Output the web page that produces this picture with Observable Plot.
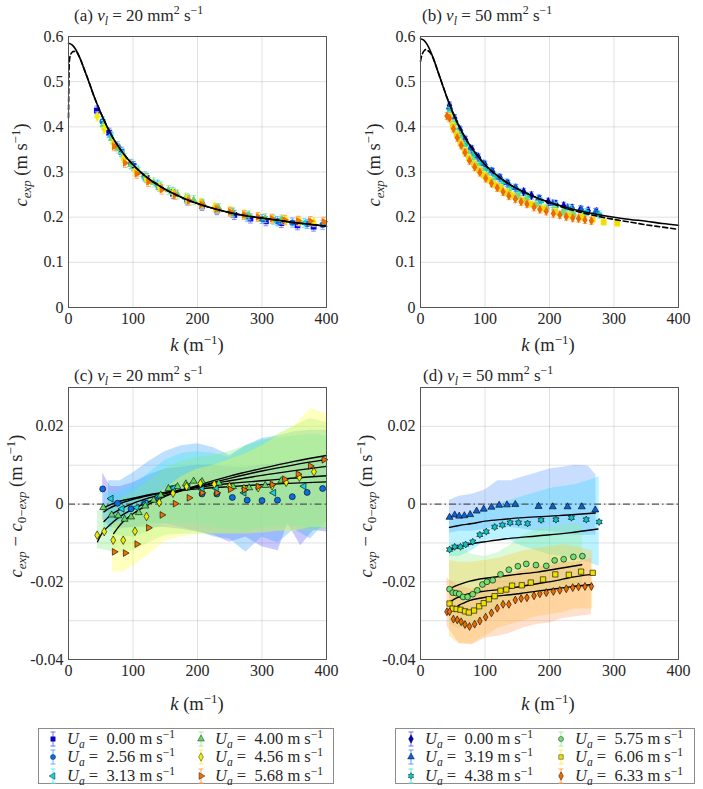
<!DOCTYPE html>
<html><head><meta charset="utf-8">
<script src="https://cdn.jsdelivr.net/npm/d3@7"></script>
<script src="https://cdn.jsdelivr.net/npm/@observablehq/plot@0.6"></script>
<style>
body{margin:0;background:#fff;}
#fig{position:relative;width:703px;height:789px;font-family:"Liberation Serif","Times New Roman",Times,"DejaVu Serif","Noto Serif",serif;color:#262626;overflow:hidden;}
.t{position:absolute;font-size:17px;white-space:nowrap;line-height:1;}
.lab{font-size:18.5px;}
.yl{transform:translate(-50%,-50%) rotate(-90deg);}
.xl{transform:translate(-50%,-50%);}
sub,sup{font-size:70%;line-height:0;}
.leg{position:absolute;border:1px solid #8c8c8c;background:#fff;box-sizing:border-box;}
.le{position:absolute;font-size:16.5px;white-space:nowrap;line-height:1;}
</style></head><body><div id="fig"></div>
<script>
// ---------------- DATA ----------------
const kTicks = [0, 100, 200, 300, 400];
const yTicksTop = [0, 0.1, 0.2, 0.3, 0.4, 0.5, 0.6];
const yTicksBot = [-0.04, -0.02, 0, 0.02];
const yGridBot = [-0.03, -0.02, -0.01, 0, 0.01, 0.02];

// model curves, panels (a) and (b)
const kCurve = [0,5,10,15,20,25,30,40,50,60,70,80,90,100,120,140,160,180,200,225,250,275,300,325,350,375,400];
const cSolidA = [0.585,0.582,0.574,0.561,0.544,0.525,0.506,0.466,0.431,0.400,0.373,0.351,0.332,0.316,0.290,0.270,0.254,0.241,0.230,0.219,0.210,0.203,0.198,0.193,0.188,0.184,0.180];
const kDashA = [0,0.5,1,2,4,8,12,16,20,25,30,40,50,60,70,80,90,100,120,140,160,180,200,225,250,275,300,325,350,375,400];
const cDashA = [0.42,0.49,0.535,0.553,0.562,0.567,0.566,0.557,0.544,0.525,0.506,0.466,0.431,0.400,0.373,0.351,0.332,0.316,0.290,0.270,0.254,0.241,0.230,0.219,0.210,0.203,0.198,0.193,0.188,0.184,0.180];
const cSolidB = [0.595,0.592,0.583,0.569,0.551,0.531,0.510,0.469,0.432,0.401,0.374,0.352,0.333,0.316,0.291,0.271,0.256,0.243,0.233,0.222,0.213,0.206,0.200,0.195,0.191,0.186,0.182];
const kDashB = [0,1,2,4,6,8,10,13,16,20,25,30,40,50,60,70,80,90,100,120,140,160,180,200,225,250,275,300,325,350,375,400];
const cDashB = [0.545,0.552,0.558,0.565,0.569,0.571,0.570,0.567,0.562,0.551,0.531,0.510,0.469,0.432,0.401,0.374,0.352,0.333,0.316,0.291,0.271,0.256,0.243,0.232,0.220,0.210,0.202,0.195,0.189,0.183,0.178,0.173];

// nu_l = 20 : wind speeds
const uaA = ["0.00", "2.56", "3.13", "4.00", "4.56", "5.68"];
const kA0 = [44,63,82,101,121,141,162,184,207,230,257,282,306,330,355,380];
const cA0 = [0.436,0.387,0.345,0.313,0.287,0.267,0.251,0.237,0.225,0.2155,0.205,0.197,0.191,0.187,0.182,0.179];
const kA1 = [53,76,97,118,138,161,184,207,230,254,277,300,324,347,370,394];
const cA1 = [0.412,0.357,0.318,0.290,0.272,0.256,0.241,0.228,0.218,0.209,0.201,0.196,0.191,0.188,0.185,0.183];
const dC1 = [0.0039,0.0002,-0.0012,0.0003,0.0017,0.004,0.0043,0.0026,0.0026,0.0017,0.001,0.0009,0.001,0.0019,0.003,0.004];
const kA2 = [66,83,106,120,140,163,185,207,229,272,318,365];
const cA2 = [0.380,0.342,0.305,0.288,0.270,0.254,0.2405,0.229,0.220,0.2046,0.194,0.187];
const dC2 = [0.0014,-0.0012,-0.0009,0.0002,0.002,0.0041,0.0045,0.0038,0.004,0.0029,0.0029,0.0046];
const kA3 = [54,67,77,87,97,109,119,132,143,155,169,182,194,207,233,255,280,305,330,357];
const cA3 = [0.404,0.374,0.352,0.331,0.316,0.300,0.2885,0.277,0.268,0.260,0.2505,0.243,0.238,0.231,0.220,0.211,0.204,0.198,0.195,0.191];
const dC3 = [-0.0009,-0.0028,-0.003,-0.0039,-0.0033,-0.0022,-0.0005,0.001,0.0023,0.004,0.0045,0.0052,0.0059,0.0058,0.0054,0.0045,0.0042,0.0048,0.006,0.0072];
const kA4 = [44.5,55.4,69.3,84.8,103,121,140.7,162,183,204.5,226,249.5,272,294,315.6,337.5,358,380.5];
const cA4 = [0.423,0.395,0.363,0.330,0.303,0.284,0.267,0.254,0.2415,0.232,0.222,0.213,0.2057,0.2002,0.196,0.193,0.191,0.189];
const dC4 = [-0.008,-0.0071,-0.0093,-0.0093,-0.007,-0.0032,0.0004,0.0028,0.0045,0.0053,0.0051,0.0045,0.004,0.0042,0.0047,0.0056,0.0069,0.0083];
const kA5 = [71,88,106,124,145,165.5,187,207,230,251,272.6,294,315.6,335,356,375,396];
const cA5 = [0.357,0.320,0.296,0.278,0.261,0.249,0.2366,0.228,0.2184,0.2118,0.2051,0.2005,0.1965,0.194,0.1919,0.1913,0.1899];
const dC5 = [-0.0123,-0.0126,-0.0103,-0.0061,-0.0028,0.0001,0.0016,0.0029,0.0029,0.0038,0.0036,0.0045,0.005,0.0064,0.0077,0.0098,0.0114];
const errA = [0.010, 0.010, 0.010, 0.010, 0.010, 0.010];

// panel (c) model curves
const kMC1 = [53,60,75,100,125,150,200,250,300,350,400];
const vMC1 = [-0.0012,-0.0005,0.0005,0.0015,0.0024,0.003,0.0039,0.0045,0.005,0.0054,0.0057];
const kMC2 = [55,62,75,100,125,150,200,250,300,350,400];
const vMC2 = [-0.002,-0.0012,-0.0002,0.0012,0.0022,0.003,0.0043,0.0053,0.006,0.0067,0.0073];
const kMC3 = [55,62,75,100,125,150,200,250,300,350,400];
const vMC3 = [-0.0045,-0.0033,-0.0018,0.0002,0.0016,0.0027,0.0045,0.006,0.0074,0.0086,0.0097];
const kMC4 = [45,52,60,70,80,100,125,150,200,250,300,350,400];
const vMC4 = [-0.0097,-0.0075,-0.006,-0.0045,-0.0032,-0.0013,0.0006,0.0022,0.0045,0.0066,0.0085,0.0101,0.0115];
const kMC5 = [70,77,85,100,125,150,200,250,300,350,400];
const vMC5 = [-0.0076,-0.006,-0.0045,-0.0025,0.0,0.002,0.0048,0.0072,0.0092,0.011,0.0125];

// panel (c) spread bands
const kBC1 = [53,65,80,100,125,150,175,200,225,250,275,300,325,340,360,380,400];
const hiC1 = [0.008,0.0045,0.0045,0.0055,0.0075,0.009,0.0095,0.010,0.010,0.0095,0.0095,0.010,0.0105,0.011,0.0115,0.012,0.012];
const loC1 = [-0.004,-0.006,-0.0065,-0.006,-0.006,-0.006,-0.0065,-0.0072,-0.008,-0.0098,-0.0085,-0.011,-0.012,-0.005,-0.0107,-0.0068,-0.0072];
const kBC2 = [62,80,100,125,150,175,200,225,250,275,300,325,350,375,400];
const hiC2 = [0.006,0.006,0.008,0.011,0.0135,0.015,0.0155,0.0145,0.0125,0.015,0.0169,0.0175,0.0186,0.019,0.019];
const loC2 = [-0.005,-0.006,-0.006,-0.005,-0.005,-0.006,-0.007,-0.0085,-0.009,-0.0124,-0.0085,-0.01,-0.0065,-0.009,-0.0045];
const kBC3 = [55,75,100,125,150,175,200,225,250,275,300,325,350,375,400];
const hiC3 = [0.003,0.003,0.005,0.008,0.0113,0.013,0.0135,0.013,0.012,0.015,0.0165,0.017,0.0175,0.018,0.0175];
const loC3 = [-0.006,-0.008,-0.0085,-0.007,-0.005,-0.005,-0.005,-0.006,-0.0065,-0.007,-0.006,-0.006,-0.0055,-0.0065,-0.006];
const kBC4 = [45,60,75,100,125,150,175,200,225,250,275,300,325,350,375,400];
const hiC4 = [-0.002,0.0,0.001,0.003,0.006,0.009,0.011,0.012,0.0125,0.0135,0.015,0.016,0.018,0.020,0.022,0.021];
const loC4 = [-0.0115,-0.012,-0.0125,-0.012,-0.01,-0.008,-0.0077,-0.0077,-0.0077,-0.0077,-0.0075,-0.0072,-0.007,-0.0068,-0.007,-0.0065];
const kBC5 = [68,85,100,125,150,175,200,225,250,275,300,325,350,375,400];
const hiC5 = [-0.005,-0.004,-0.002,0.001,0.004,0.007,0.009,0.010,0.0115,0.013,0.015,0.0175,0.020,0.0245,0.0233];
const loC5 = [-0.0175,-0.0175,-0.016,-0.013,-0.0095,-0.0085,-0.0077,-0.0077,-0.0077,-0.0077,-0.0075,-0.007,-0.007,-0.006,-0.006];

// nu_l = 50 : wind speeds
const uaB = ["0.00", "3.19", "4.38", "5.75", "6.06", "6.33"];
const kB0 = [45,53,62,70,80,90,100,112,124,136,148,160,172,185,198,210,222,235,248,260,273];
const cB0 = [0.447,0.419,0.392,0.371,0.350,0.332,0.316,0.300,0.286,0.274,0.264,0.256,0.248,0.240,0.234,0.229,0.225,0.220,0.217,0.214,0.212];
const kB1 = [45,53,60,68,77,87,98,110,122,134,147,183,205,228,250,271];
const cB1 = [0.444,0.416,0.395,0.373,0.352,0.335,0.318,0.302,0.288,0.276,0.265,0.241,0.230,0.221,0.216,0.211];
const dD1 = [-0.0034,-0.0028,-0.0031,-0.0030,-0.0027,-0.0018,-0.0013,-0.0008,-0.0003,-0.0002,-0.0001,-0.0006,-0.0007,-0.0007,-0.0007,-0.0015];
const kB2 = [45,53,62,70,81,92,102,115,127,139,152,166,187,210,234,257,277];
const cB2 = [0.435,0.408,0.381,0.361,0.338,0.321,0.306,0.290,0.278,0.266,0.256,0.247,0.235,0.225,0.217,0.211,0.206];
const dD2 = [-0.0117,-0.011,-0.011,-0.0104,-0.0097,-0.0079,-0.0071,-0.0059,-0.0054,-0.0048,-0.0048,-0.005,-0.0041,-0.004,-0.0035,-0.004,-0.0046];
const kB3 = [45,50,55,60,66,73,81,88,96,103,112,124,137,151,164,179,195,208,222,237,251];
const cB3 = [0.425,0.406,0.390,0.375,0.357,0.340,0.325,0.313,0.301,0.292,0.280,0.268,0.256,0.246,0.239,0.228,0.220,0.216,0.211,0.205,0.204];
const dD3 = [-0.0219,-0.0228,-0.0229,-0.0231,-0.0239,-0.0239,-0.0232,-0.0222,-0.0207,-0.02,-0.0196,-0.0181,-0.0169,-0.016,-0.0154,-0.0157,-0.0159,-0.0145,-0.0142,-0.0136,-0.0134];
const kB4 = [45,50,56,62,69,75,83,91,98,106,115,124,133,142,157,171,190,209,230,249,267,284,305];
const cB4 = [0.421,0.402,0.383,0.365,0.346,0.331,0.317,0.304,0.293,0.283,0.272,0.264,0.255,0.248,0.237,0.229,0.219,0.211,0.204,0.200,0.195,0.189,0.1865];
const kD4 = [45,50,56,62,69,75,83,91,98,106,115,124,133,142,157,171,190,209,230,249,267];
const dD4 = [-0.0256,-0.0269,-0.027,-0.0272,-0.0276,-0.0279,-0.0274,-0.0263,-0.0255,-0.0245,-0.0237,-0.0223,-0.022,-0.021,-0.0209,-0.0202,-0.0194,-0.0181,-0.0182,-0.0174,-0.0177];
const kB5 = [41,45,51,57,63,69,76,84,92,101,110,119,128,137,147,156,165,176,185,195,206,216,226,236,245,255,265];
const cB5 = [0.424,0.419,0.396,0.376,0.359,0.343,0.325,0.311,0.299,0.286,0.275,0.265,0.256,0.247,0.240,0.234,0.229,0.222,0.217,0.213,0.208,0.205,0.201,0.198,0.197,0.194,0.192];
const dD5 = [-0.0277,-0.0277,-0.0296,-0.0298,-0.0303,-0.031,-0.0315,-0.0309,-0.0301,-0.0291,-0.028,-0.0268,-0.0258,-0.0258,-0.0247,-0.0243,-0.0241,-0.0236,-0.0231,-0.0228,-0.0225,-0.0222,-0.0218,-0.0215,-0.0213,-0.0212,-0.0212];
const errB = [0.008, 0.008, 0.008, 0.008, 0.008, 0.008];

// panel (d) model curves
const kMD1 = [45,60,80,100,130,160,200,240,271];
const vMD1 = [-0.006,-0.0055,-0.005,-0.0044,-0.0039,-0.0035,-0.0031,-0.0027,-0.0023];
const kMD2 = [45,60,80,100,130,180,230,275];
const vMD2 = [-0.0119,-0.011,-0.0102,-0.0097,-0.009,-0.0082,-0.0074,-0.0064];
const kMD3 = [44,50,62,75,88,110,129,155,181,210,250];
const vMD3 = [-0.0222,-0.0214,-0.0206,-0.0199,-0.0194,-0.0189,-0.0185,-0.018,-0.0175,-0.0167,-0.0156];
const kMD4 = [44,50,57,65,77,100,129,155,181,210,232,266];
const vMD4 = [-0.0254,-0.0247,-0.0241,-0.0236,-0.023,-0.0224,-0.0219,-0.0212,-0.0205,-0.0197,-0.0189,-0.0181];
const kMD5 = [54,60,68,77,90,110,129,155,181,210,232,266];
const vMD5 = [-0.0268,-0.026,-0.0254,-0.0248,-0.0243,-0.0238,-0.0235,-0.023,-0.0224,-0.0218,-0.0213,-0.0207];

// panel (d) spread bands
const kBD1 = [45,60,80,100,120,140,160,180,200,220,240,260,272];
const hiD1 = [0.001,0.002,0.0025,0.0036,0.006,0.006,0.007,0.008,0.009,0.0095,0.010,0.0098,0.0075];
const loD1 = [-0.0075,-0.007,-0.007,-0.0065,-0.006,-0.006,-0.0065,-0.007,-0.007,-0.0075,-0.008,-0.008,-0.008];
const kBD2 = [45,60,80,100,120,140,160,180,200,220,240,260,277];
const hiD2 = [-0.004,-0.004,-0.003,-0.0015,0.0,0.001,0.002,0.003,0.004,0.0045,0.005,0.006,0.007];
const loD2 = [-0.0135,-0.0135,-0.012,-0.0095,-0.009,-0.0095,-0.011,-0.012,-0.013,-0.0135,-0.014,-0.015,-0.016];
const kBD3 = [45,60,80,100,120,140,160,180,200,220,240,251];
const hiD3 = [-0.0105,-0.011,-0.013,-0.0135,-0.0125,-0.0105,-0.008,-0.0065,-0.006,-0.0055,-0.005,-0.0055];
const loD3 = [-0.031,-0.032,-0.032,-0.029,-0.027,-0.025,-0.024,-0.024,-0.023,-0.022,-0.022,-0.022];
const kBD4 = [45,60,80,100,120,140,160,180,200,220,240,267];
const hiD4 = [-0.0145,-0.015,-0.015,-0.0145,-0.014,-0.013,-0.012,-0.0115,-0.011,-0.0105,-0.011,-0.012];
const loD4 = [-0.034,-0.036,-0.036,-0.034,-0.032,-0.031,-0.030,-0.029,-0.0285,-0.028,-0.027,-0.027];
const kBD5 = [41,60,80,100,120,140,160,180,200,220,240,265];
const hiD5 = [-0.019,-0.021,-0.022,-0.021,-0.019,-0.018,-0.017,-0.016,-0.016,-0.015,-0.015,-0.014];
const loD5 = [-0.0315,-0.0358,-0.0362,-0.0345,-0.034,-0.0332,-0.0318,-0.031,-0.0306,-0.0295,-0.029,-0.0285];

// ---------------- STYLE ----------------
const FONT = '"Liberation Serif","Times New Roman",Times,"DejaVu Serif","Noto Serif",serif';
const colA = ["#0000ff", "#0a6fe6", "#16d2e0", "#62d862", "#f2ee00", "#f07000"];
const eColA = ["#7070ff", "#66aaff", "#66eef0", "#a0f0a0", "#f5f066", "#ffa64d"];
const bandColC = ["#5c5cff", "#3aa0ff", "#30e8f0", "#80ee80", "#ffff40"];
const colB = ["#0000c8", "#0a62d6", "#12c4c4", "#70e070", "#f0e000", "#ee6a00"];
const eColB = ["#6b6bff", "#5c9cff", "#60e0e0", "#a0f0a0", "#f5f066", "#ffa64d"];
const bandColD = ["#5c9cff", "#30d8ff", "#90f090", "#ffcc33", "#ffa060"];

const sqrt3 = Math.sqrt(3);
const triLeft = {draw(c, s){ const y = -Math.sqrt(s/(sqrt3*3)); c.moveTo(y*2,0); c.lineTo(-y,-sqrt3*y); c.lineTo(-y,sqrt3*y); c.closePath(); }};
const triRight = {draw(c, s){ const y = -Math.sqrt(s/(sqrt3*3)); c.moveTo(-y*2,0); c.lineTo(y,-sqrt3*y); c.lineTo(y,sqrt3*y); c.closePath(); }};
const hexagram = {draw(c, s){ const R = Math.sqrt(s/Math.PI)*1.3, r = R/sqrt3;
  for (let i=0;i<12;i++){ const a=i*Math.PI/6-Math.PI/2, rr=i%2?r:R; const x=rr*Math.cos(a), y=rr*Math.sin(a); if(i) c.lineTo(x,y); else c.moveTo(x,y);} c.closePath(); }};
const capSym = {draw(c, s){ const w = Math.sqrt(s)/2; c.moveTo(-w,0); c.lineTo(w,0); }};
const symA = ["square", "circle", triLeft, "triangle", "diamond", triRight];
const symB = ["diamond", "triangle", hexagram, "circle", "square", "diamond"];
const rA = [3.3, 3.2, 2.9, 2.9, 3.0, 2.9];
const rB = [2.9, 2.9, 3.0, 3.1, 3.3, 2.8];
const rC = [3.0, 2.6, 2.6, 2.6, 2.5];
const rD = [2.6, 2.7, 2.9, 3.0, 2.4];

// ---------------- HELPERS ----------------
const rows = (ks, vs) => ks.map((k, i) => ({k, v: vs[i]}));
const bandRows = (ks, lo, hi) => ks.map((k, i) => ({k, lo: lo[i], hi: hi[i]}));
const errRows = (ks, vs, e) => ks.map((k, i) => ({k, v: vs[i], lo: vs[i] - e, hi: vs[i] + e}));
const fig = document.getElementById("fig");

function panel({left, top, ml, mr, mt, mb, height, ydom, ylab, ygrid, fmt, marks}) {
  const svg = Plot.plot({
    width: 350, height, marginLeft: ml, marginRight: mr, marginTop: mt, marginBottom: mb,
    x: {domain: [0, 400]}, y: {domain: ydom},
    style: {fontFamily: FONT, fontSize: "16px", color: "#262626", background: "transparent", overflow: "visible"},
    marks: [
      Plot.gridX([100, 200, 300], {stroke: "#000", strokeOpacity: 0.12}),
      Plot.gridY(ygrid, {stroke: "#000", strokeOpacity: 0.12}),
      ...marks,
      Plot.frame({stroke: "#555", strokeWidth: 1}),
      Plot.axisX(kTicks, {tickSize: 0, tickPadding: 5, label: null, tickFormat: d => String(d), fontSize: 16}),
      Plot.axisY(ylab, {tickSize: 0, tickPadding: 5, label: null, tickFormat: fmt, fontSize: 16})
    ]
  });
  svg.style.position = "absolute";
  svg.style.left = left + "px";
  svg.style.top = top + "px";
  fig.appendChild(svg);
}

function seriesMarks(ks, vs, e, col, ecol, sym, r, stroke) {
  const ms = [];
  if (e > 0) {
    const er = errRows(ks, vs, e);
    ms.push(Plot.ruleX(er, {x: "k", y1: "lo", y2: "hi", stroke: ecol, strokeWidth: 1, strokeOpacity: 0.85}));
    ms.push(Plot.dot(er, {x: "k", y: "lo", symbol: capSym, r: 2.6, stroke: ecol, strokeWidth: 1, strokeOpacity: 0.85}));
    ms.push(Plot.dot(er, {x: "k", y: "hi", symbol: capSym, r: 2.6, stroke: ecol, strokeWidth: 1, strokeOpacity: 0.85}));
  }
  ms.push(Plot.dot(rows(ks, vs), {x: "k", y: "v", symbol: sym, r, fill: col, stroke: stroke || "none", strokeWidth: 0.6}));
  return ms;
}

// ---------------- PANEL (a) ----------------
const topFmt = d => d === 0 ? "0" : d.toFixed(1);
const botFmt = d => d === 0 ? "0" : d.toFixed(2);
const kAs = [kA0, kA1, kA2, kA3, kA4, kA5], cAs = [cA0, cA1, cA2, cA3, cA4, cA5];
const marksA = [];
kAs.forEach((ks, i) => marksA.push(...seriesMarks(ks, cAs[i], errA[i], colA[i], eColA[i], symA[i], rA[i])));
marksA.push(Plot.line(rows(kDashA, cDashA), {x: "k", y: "v", stroke: "#000", strokeWidth: 1.6, strokeDasharray: "5,3", curve: "monotone-x"}));
marksA.push(Plot.line(rows(kCurve, cSolidA), {x: "k", y: "v", stroke: "#000", strokeWidth: 1.6, curve: "monotone-x"}));
panel({left: 0, top: 0, ml: 68, mr: 24, mt: 36, mb: 53, height: 360, ydom: [0, 0.6], ylab: yTicksTop, ygrid: yTicksTop, fmt: topFmt, marks: marksA});

// ---------------- PANEL (b) ----------------
const kBs = [kB0, kB1, kB2, kB3, kB4, kB5], cBs = [cB0, cB1, cB2, cB3, cB4, cB5];
const marksB = [];
kBs.forEach((ks, i) => marksB.push(...seriesMarks(ks, cBs[i], errB[i], colB[i], eColB[i], symB[i], rB[i])));
marksB.push(Plot.line(rows(kDashB, cDashB), {x: "k", y: "v", stroke: "#000", strokeWidth: 1.6, strokeDasharray: "5,3", curve: "monotone-x"}));
marksB.push(Plot.line(rows(kCurve, cSolidB), {x: "k", y: "v", stroke: "#000", strokeWidth: 1.6, curve: "monotone-x"}));
panel({left: 350, top: 0, ml: 70, mr: 22, mt: 36, mb: 53, height: 360, ydom: [0, 0.6], ylab: yTicksTop, ygrid: yTicksTop, fmt: topFmt, marks: marksB});

// ---------------- PANEL (c) ----------------
const bandsC = [[kBC1, loC1, hiC1], [kBC2, loC2, hiC2], [kBC3, loC3, hiC3], [kBC4, loC4, hiC4], [kBC5, loC5, hiC5]];
const modelsC = [[kMC1, vMC1], [kMC2, vMC2], [kMC3, vMC3], [kMC4, vMC4], [kMC5, vMC5]];
const ptsC = [[kA1, dC1], [kA2, dC2], [kA3, dC3], [kA4, dC4], [kA5, dC5]];
const marksC = [];
bandsC.forEach(([k, lo, hi], i) => marksC.push(Plot.areaY(bandRows(k, lo, hi), {x: "k", y1: "lo", y2: "hi", fill: bandColC[i], fillOpacity: 0.33})));
marksC.push(Plot.ruleY([0], {stroke: "#555", strokeWidth: 1.2, strokeDasharray: "7,3,1.5,3"}));
modelsC.forEach(([k, v]) => marksC.push(Plot.line(rows(k, v), {x: "k", y: "v", stroke: "#000", strokeWidth: 1.4, curve: "monotone-x"})));
ptsC.forEach(([k, v], i) => marksC.push(...seriesMarks(k, v, 0, colA[i + 1], null, symA[i + 1], rC[i], "#000")));
panel({left: 0, top: 360, ml: 68, mr: 24, mt: 27, mb: 31, height: 330, ydom: [-0.04, 0.03], ylab: yTicksBot, ygrid: yGridBot, fmt: botFmt, marks: marksC});

// ---------------- PANEL (d) ----------------
const bandsD = [[kBD1, loD1, hiD1], [kBD2, loD2, hiD2], [kBD3, loD3, hiD3], [kBD4, loD4, hiD4], [kBD5, loD5, hiD5]];
const modelsD = [[kMD1, vMD1], [kMD2, vMD2], [kMD3, vMD3], [kMD4, vMD4], [kMD5, vMD5]];
const ptsD = [[kB1, dD1], [kB2, dD2], [kB3, dD3], [kD4, dD4], [kB5, dD5]];
const marksD = [];
bandsD.forEach(([k, lo, hi], i) => marksD.push(Plot.areaY(bandRows(k, lo, hi), {x: "k", y1: "lo", y2: "hi", fill: bandColD[i], fillOpacity: 0.33})));
marksD.push(Plot.ruleY([0], {stroke: "#555", strokeWidth: 1.2, strokeDasharray: "7,3,1.5,3"}));
modelsD.forEach(([k, v]) => marksD.push(Plot.line(rows(k, v), {x: "k", y: "v", stroke: "#000", strokeWidth: 1.4, curve: "monotone-x"})));
ptsD.forEach(([k, v], i) => marksD.push(...seriesMarks(k, v, 0, colB[i + 1], null, symB[i + 1], rD[i], "#000")));
panel({left: 350, top: 360, ml: 70, mr: 22, mt: 27, mb: 31, height: 330, ydom: [-0.04, 0.03], ylab: yTicksBot, ygrid: yGridBot, fmt: botFmt, marks: marksD});

// ---------------- TEXT ----------------
function txt(html, x, y, cls) {
  const d = document.createElement("div");
  d.className = "t " + (cls || "");
  d.innerHTML = html;
  d.style.left = x + "px"; d.style.top = y + "px";
  fig.appendChild(d);
  return d;
}
const nu = v => `<i>ν</i><sub><i>l</i></sub> = ${v} mm<sup>2</sup> s<sup>−1</sup>`;
txt(`(a) ${nu(20)}`, 74, 7);
txt(`(b) ${nu(50)}`, 422, 7);
txt(`(c) ${nu(20)}`, 74, 367);
txt(`(d) ${nu(50)}`, 423, 367);
const kLab = `<i>k</i> (m<sup>−1</sup>)`;
txt(kLab, 197, 345, "xl lab");
txt(kLab, 548, 345, "xl lab");
txt(kLab, 197, 704, "xl lab");
txt(kLab, 548, 704, "xl lab");
const cLab = `<i>c<sub>exp</sub></i> (m s<sup>−1</sup>)`;
txt(cLab, 21, 165, "yl lab");
txt(cLab, 374, 165, "yl lab");
const dLab = `<i>c<sub>exp</sub></i> − <i>c</i><sub>0−<i>exp</i></sub> (m s<sup>−1</sup>)`;
txt(dLab, 16, 506, "yl lab");
txt(dLab, 366, 506, "yl lab");

// ---------------- LEGENDS ----------------
function legend(left, width, uas, cols, ecols, syms, xs) {
  const box = document.createElement("div");
  box.className = "leg";
  box.style.left = left + "px"; box.style.top = "728px";
  box.style.width = width + "px"; box.style.height = "56px";
  fig.appendChild(box);
  uas.forEach((u, i) => {
    const col = Math.floor(i / 3), row = i % 3;
    const cy = 10 + row * 18.4;
    const mx = xs[col];
    const ns = "http://www.w3.org/2000/svg";
    const s = document.createElementNS(ns, "svg");
    s.setAttribute("width", 12); s.setAttribute("height", 18);
    s.style.position = "absolute"; s.style.left = (mx - 6) + "px"; s.style.top = (cy - 9) + "px";
    const g = document.createElementNS(ns, "g");
    g.setAttribute("transform", "translate(6,9)");
    const ep = document.createElementNS(ns, "path");
    ep.setAttribute("d", "M0,-7V7M-2.5,-7H2.5M-2.5,7H2.5");
    ep.setAttribute("stroke", ecols[i]); ep.setAttribute("fill", "none");
    g.appendChild(ep);
    const mp = document.createElementNS(ns, "path");
    const ty = typeof syms[i] === "string" ? {square: d3.symbolSquare, circle: d3.symbolCircle, triangle: d3.symbolTriangle, diamond: d3.symbolDiamond}[syms[i]] : syms[i];
    mp.setAttribute("d", d3.symbol(ty, 20)());
    mp.setAttribute("fill", cols[i]); mp.setAttribute("stroke", "#000"); mp.setAttribute("stroke-width", 0.4);
    g.appendChild(mp);
    s.appendChild(g);
    box.appendChild(s);
    const t = document.createElement("div");
    t.className = "le";
    t.innerHTML = `<i>U<sub>a</sub></i> =&nbsp; ${u} m s<sup>−1</sup>`;
    t.style.left = (mx + 14) + "px"; t.style.top = (cy - 8) + "px";
    box.appendChild(t);
  });
}
legend(38, 296, uaA, colA, eColA, symA, [14, 162]);
legend(395, 300, uaB, colB, eColB, symB, [15, 165]);
</script></body></html>
